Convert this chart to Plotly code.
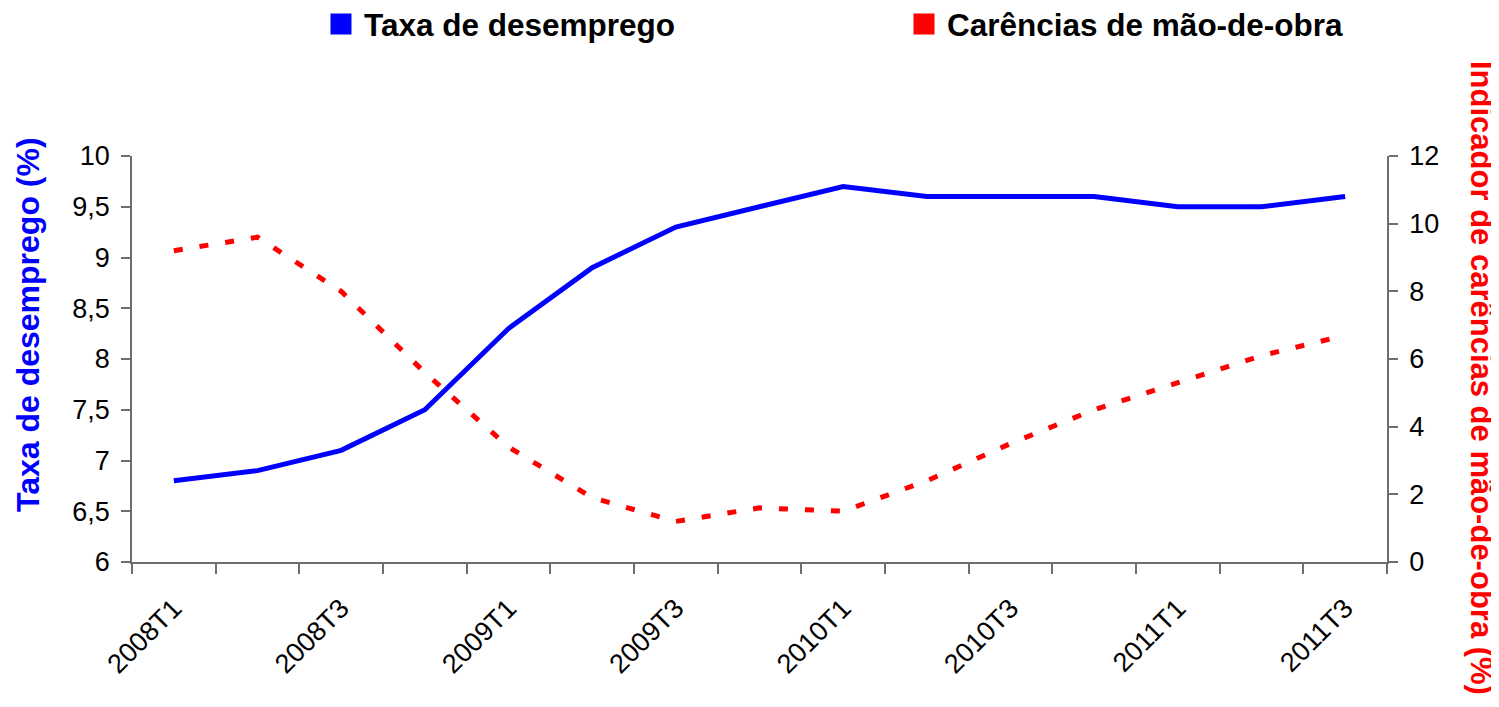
import plotly.graph_objects as go

# quarters (x), unemployment rate (left axis), labour shortage indicator (right axis)
quarters = ["2008T1", "2008T2", "2008T3", "2008T4",
            "2009T1", "2009T2", "2009T3", "2009T4",
            "2010T1", "2010T2", "2010T3", "2010T4",
            "2011T1", "2011T2", "2011T3"]
desemprego = [6.8, 6.9, 7.1, 7.5, 8.3, 8.9, 9.3, 9.5, 9.7, 9.6, 9.6, 9.6, 9.5, 9.5, 9.6]
carencias = [9.2, 9.6, 8.0, 5.6, 3.4, 1.9, 1.2, 1.6, 1.5, 2.4, 3.5, 4.5, 5.3, 6.1, 6.7]
tick_labels = [q if i % 2 == 0 else "" for i, q in enumerate(quarters)]

FONT = "Liberation Sans, Arial, sans-serif"
AXIS_COL = "#6e6e6e"

fig = go.Figure()

fig.add_trace(go.Scatter(x=quarters, y=desemprego, mode="lines",
                         line=dict(color="#0000ff", width=5),
                         showlegend=False, yaxis="y"))
fig.add_trace(go.Scatter(x=quarters, y=carencias, mode="lines",
                         line=dict(color="#ff0000", width=5, dash="9px,17px"),
                         showlegend=False, yaxis="y2"))

# legend entries drawn as squares
fig.add_trace(go.Scatter(x=[None], y=[None], mode="markers", name="Taxa de desemprego",
                         marker=dict(symbol="square", size=22, color="#0000ff",
                                     line=dict(color="#0000ff", width=5))))
fig.add_trace(go.Scatter(x=[None], y=[None], mode="markers", name="Carências de mão-de-obra",
                         marker=dict(symbol="square", size=22, color="#ff0000",
                                     line=dict(color="#ff0000", width=5))))

fig.update_layout(
    width=1499, height=707,
    margin=dict(l=124, r=120, t=148, b=153, autoexpand=False),
    plot_bgcolor="white", paper_bgcolor="white",
    separators=", ",
    font=dict(family=FONT, size=26, color="black"),
    showlegend=True,
    legend=dict(orientation="h", x=0.1482, xanchor="left", y=1.325, yanchor="middle",
                font=dict(size=31.5, family=FONT, color="black", weight="bold"),
                entrywidth=532, itemwidth=36, bgcolor="rgba(0,0,0,0)"),
    xaxis=dict(type="category", categoryorder="array", categoryarray=quarters,
               tickmode="array", tickvals=quarters, ticktext=tick_labels,
               tickson="boundaries", ticks="outside", ticklen=10, tickwidth=1.5,
               tickcolor=AXIS_COL, tickangle=-45, automargin=False,
               tickfont=dict(size=27), ticklabelstandoff=18,
               showline=True, linecolor=AXIS_COL, linewidth=1.5,
               showgrid=False, zeroline=False, range=[-0.5, 14.5]),
    xaxis2=dict(overlaying="x", anchor="y", range=[-0.5, 14.5], tick0=-0.5, dtick=1,
                ticks="inside", ticklen=10, tickwidth=1.5, tickcolor=AXIS_COL,
                showticklabels=False, showline=False, showgrid=False, zeroline=False),
    yaxis=dict(range=[6, 10], dtick=0.5, ticks="outside", ticklen=9, tickwidth=1.5,
               tickcolor=AXIS_COL, showline=True, linecolor=AXIS_COL, linewidth=1.5,
               showgrid=False, zeroline=False, tickfont=dict(size=27),
               ticklabelstandoff=6, automargin=False),
    yaxis2=dict(range=[0, 12], dtick=2, overlaying="y", side="right", anchor="x",
                ticks="outside", ticklen=9, tickwidth=1.5, tickcolor=AXIS_COL,
                showline=True, linecolor=AXIS_COL, linewidth=1.5,
                showgrid=False, zeroline=False, tickfont=dict(size=27),
                ticklabelstandoff=6, automargin=False),
    yaxis3=dict(range=[6, 10], dtick=0.5, overlaying="y", side="left", anchor="x",
                ticks="inside", ticklen=9, tickwidth=1.5, tickcolor=AXIS_COL,
                showticklabels=False, showline=False, showgrid=False, zeroline=False),
    yaxis4=dict(range=[0, 12], dtick=2, overlaying="y", side="right", anchor="x",
                ticks="inside", ticklen=9, tickwidth=1.5, tickcolor=AXIS_COL,
                showticklabels=False, showline=False, showgrid=False, zeroline=False),
)

fig.add_annotation(text="Taxa de desemprego (%)", textangle=-90, showarrow=False,
                   xref="paper", yref="paper", x=(28 - 132) / 1255, y=(562 - 325) / 406,
                   xanchor="center", yanchor="middle",
                   font=dict(size=32, color="#0000ff", family=FONT, weight="bold"))
fig.add_annotation(text="Indicador de carências de mão-de-obra (%)", textangle=90,
                   showarrow=False, xref="paper", yref="paper",
                   x=(1482 - 132) / 1255, y=(562 - 378) / 406,
                   xanchor="center", yanchor="middle",
                   font=dict(size=31, color="#ff0000", family=FONT, weight="bold"))

fig.write_html("out.html")
